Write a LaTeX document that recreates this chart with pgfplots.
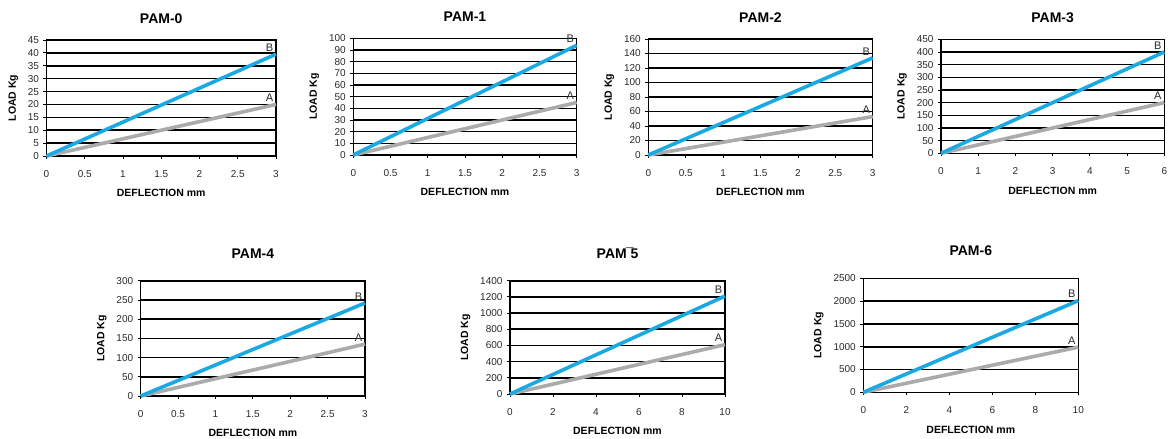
\documentclass[border=0pt]{standalone}
\usepackage{fontspec}
\setmainfont{Liberation Sans}
\usepackage{pgfplots}
\pgfplotsset{compat=1.18}
\definecolor{lineB}{HTML}{1BA9E4}
\definecolor{lineA}{HTML}{ABABAB}
\definecolor{tickgray}{HTML}{2A2A2A}
\tikzset{
  lbl/.style={anchor=south east, inner sep=1pt, font=\fontsize{11}{11}\selectfont, text=tickgray},
}
\pgfplotsset{
  pam/.style={
    scale only axis,
    anchor=south west,
    xmin=0, ymin=0,
    axis line style={black, line width=1.3pt},
    ymajorgrids,
    grid style={black, line width=1.6pt},
    tick align=outside,
    xtick pos=bottom, ytick pos=left,
    major tick length=3pt,
    tick style={black, line width=0.8pt},
    /pgf/number format/assume math mode=true,
    /pgf/number format/1000 sep={},
    scaled ticks=false,
    ticklabel style={font=\fontsize{10}{10}\selectfont, text=tickgray},
    xticklabel style={yshift=-8pt},
    yticklabel style={xshift=-1pt},
    xlabel={DEFLECTION mm},
    ylabel={LOAD Kg},
    label style={font=\bfseries\fontsize{10.5}{10.5}\selectfont},
    xlabel style={yshift=-5pt},
    ylabel style={yshift=3pt},
    title style={font=\bfseries\fontsize{14}{14}\selectfont, yshift=7pt},
    clip=false,
  },
  lA/.style={color=lineA, line width=3.6pt},
  lB/.style={color=lineB, line width=3.6pt},
}
\begin{document}
\begin{tikzpicture}
\useasboundingbox (0,0) rectangle (1168pt,-439pt);
% PAM-0
\begin{axis}[pam, at={(46.5pt,-156pt)}, width=229.5pt, height=116pt,
  title={PAM-0}, xmax=3, ymax=45, xtick={0,0.5,...,3}, ytick={0,5,...,45}]
\addplot[lA] coordinates {(0,0) (3,20)} node[pos=1, lbl] {A};
\addplot[lB] coordinates {(0,0) (3,39.5)} node[pos=1, lbl] {B};
\end{axis}
% PAM-1
\begin{axis}[pam, at={(353.3pt,-155pt)}, width=223.4pt, height=116.7pt,
  title={PAM-1}, xmax=3, ymax=100, xtick={0,0.5,...,3}, ytick={0,10,...,100}]
\addplot[lA] coordinates {(0,0) (3,45)} node[pos=1, lbl] {A};
\addplot[lB] coordinates {(0,0) (3,94)} node[pos=1, lbl] {B};
\end{axis}
% PAM-2
\begin{axis}[pam, at={(648.3pt,-155pt)}, width=224.4pt, height=116pt,
  title={PAM-2}, xmax=3, ymax=160, xtick={0,0.5,...,3}, ytick={0,20,...,160}]
\addplot[lA] coordinates {(0,0) (3,53)} node[pos=1, lbl] {A};
\addplot[lB] coordinates {(0,0) (3,134)} node[pos=1, lbl] {B};
\end{axis}
% PAM-3
\begin{axis}[pam, at={(941pt,-153.3pt)}, width=223.3pt, height=114pt,
  title={PAM-3}, xmax=6, ymax=450, xtick={0,1,...,6}, ytick={0,50,...,450}]
\addplot[lA] coordinates {(0,0) (6,200)} node[pos=1, lbl] {A};
\addplot[lB] coordinates {(0,0) (6,400)} node[pos=1, lbl] {B};
\end{axis}
% PAM-4
\begin{axis}[pam, at={(140.7pt,-396pt)}, width=224.3pt, height=115.3pt,
  title={PAM-4}, title style={yshift=6pt}, xmax=3, ymax=300, xtick={0,0.5,...,3}, ytick={0,50,...,300}]
\addplot[lA] coordinates {(0,0) (3,135)} node[pos=1, lbl] {A};
\addplot[lB] coordinates {(0,0) (3,242)} node[pos=1, lbl] {B};
\end{axis}
% PAM-5
\begin{axis}[pam, at={(510pt,-394pt)}, width=215pt, height=113.3pt,
  title={PAM\kern-1pt¯\kern-3pt5}, title style={yshift=6pt}, xmax=10, ymax=1400, xtick={0,2,...,10}, ytick={0,200,...,1400}]
\addplot[lA] coordinates {(0,0) (10,610)} node[pos=1, lbl] {A};
\addplot[lB] coordinates {(0,0) (10,1210)} node[pos=1, lbl] {B};
\end{axis}
% PAM-6
\begin{axis}[pam, at={(863.3pt,-392.3pt)}, width=215pt, height=114pt,
  title={PAM-6}, title style={yshift=6pt}, xmax=10, ymax=2500, xtick={0,2,...,10}, ytick={0,500,...,2500}]
\addplot[lA] coordinates {(0,0) (10,990)} node[pos=1, lbl] {A};
\addplot[lB] coordinates {(0,0) (10,2010)} node[pos=1, lbl] {B};
\end{axis}
\end{tikzpicture}
\end{document}
